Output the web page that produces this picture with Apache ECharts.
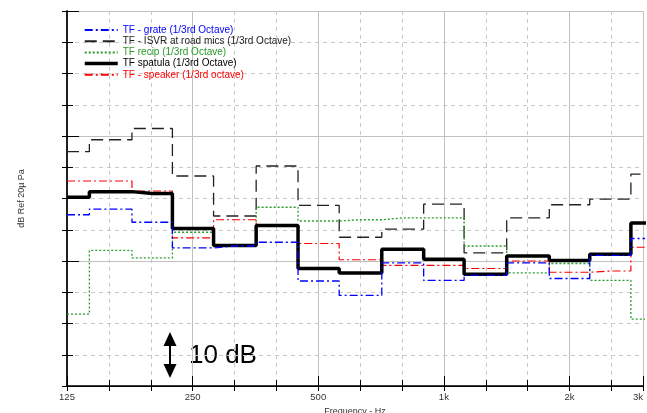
<!DOCTYPE html>
<html>
<head>
<meta charset="utf-8">
<script src="https://cdn.jsdelivr.net/npm/echarts@6/dist/echarts.min.js"></script>
<style>
  html, body { margin: 0; padding: 0; background: #fff; }
  #chart { width: 647px; height: 413px; }
</style>
</head>
<body>
<div id="chart"></div>
<script>
// 1/3 octave band centres (Hz)
var bands = [125, 160, 200, 250, 315, 400, 500, 630, 800, 1000, 1250, 1600, 2000, 2500, 3150];

// levels, dB (axis has no numbers, 5 dB per grid step)
var grate   = [27.4, 28.3, 26.2, 22.1, 22.4, 23.0, 16.8, 14.5, 19.7, 16.9, 17.7, 19.7, 17.2, 20.9, 23.6];
var isvr    = [37.5, 39.4, 41.2, 33.6, 27.2, 35.2, 28.9, 23.8, 25.1, 29.1, 21.3, 26.9, 29.0, 29.9, 33.9];
var recip   = [11.5, 21.7, 20.5, 24.6, 22.4, 28.6, 26.4, 26.6, 26.9, 26.9, 22.4, 18.1, 19.6, 16.9, 10.7];
var spatula = [30.2, 31.1, 30.8, 25.2, 22.5, 25.7, 18.8, 18.1, 21.9, 20.3, 17.9, 20.8, 20.1, 21.1, 26.1];
var speaker = [32.8, 32.8, 31.2, 23.7, 26.6, 25.6, 22.8, 20.2, 19.3, 19.3, 18.8, 20.0, 18.2, 18.4, 22.2];

var fMin = 125, fMax = 3000;

// x is plotted in octaves above 125 Hz
function oct(f) { return Math.log2(f / fMin); }
function pts(vals) {
  return bands.map(function (f, i) { return [oct(f), vals[i]]; });
}

var xMax = oct(fMax);
var font = 'Liberation Sans, Arial, sans-serif';

function freqLabel(v) {
  if (Math.abs(v - xMax) < 1e-6) return '3k';
  if (Math.abs(v - Math.round(v)) > 1e-6) return '';
  var f = Math.round(fMin * Math.pow(2, Math.round(v)));
  return f >= 1000 ? (f / 1000) + 'k' : String(f);
}

var chart = echarts.init(document.getElementById('chart'));

var series = [
  { name: 'TF - ISVR at road mics (1/3rd Octave)', data: pts(isvr),
    lineStyle: { color: '#222', width: 1.3, type: [12, 6] } },
  { name: 'TF recip (1/3rd Octave)', data: pts(recip),
    lineStyle: { color: '#2a9a2a', width: 1.3, type: [2, 2] } },
  { name: 'TF - speaker (1/3rd octave)', data: pts(speaker),
    lineStyle: { color: '#ff0000', width: 1.2, type: [8, 3, 2, 3] } },
  { name: 'TF spatula (1/3rd Octave)', data: pts(spatula),
    lineStyle: { color: '#000', width: 3.5, type: 'solid' } },
  { name: 'TF - grate (1/3rd Octave)', data: pts(grate),
    lineStyle: { color: '#0000ff', width: 1.3, type: [8, 3, 2, 3] } }
].map(function (s) {
  s.type = 'line';
  s.step = 'middle';
  s.symbol = 'circle';
  s.showSymbol = false;
  s.xAxisIndex = 0;
  s.yAxisIndex = 0;
  s.itemStyle = { color: s.lineStyle.color };
  s.animation = false;
  return s;
});

var legendText = {
  'TF - grate (1/3rd Octave)': '#0000ff',
  'TF - ISVR at road mics (1/3rd Octave)': '#222',
  'TF recip (1/3rd Octave)': '#2a9a2a',
  'TF spatula (1/3rd Octave)': '#000',
  'TF - speaker (1/3rd octave)': '#ff0000'
};

var option = {
  backgroundColor: '#fff',
  animation: false,
  grid: { left: 67, right: 4, top: 11, bottom: 27, outerBoundsMode: 'none', containLabel: false },
  legend: {
    orient: 'vertical',
    left: 78, top: 20,
    itemWidth: 33, itemHeight: 8, itemGap: 1.2,
    itemStyle: { color: 'rgba(0,0,0,0)', borderColor: 'rgba(0,0,0,0)', borderWidth: 0 },
    textStyle: { fontSize: 10, lineHeight: 10, fontFamily: font },
    data: Object.keys(legendText).map(function (n) {
      var item = { name: n, textStyle: { color: legendText[n] } };
      if (n.indexOf('spatula') >= 0) item.lineStyle = { width: 3.5 };
      return item;
    })
  },
  xAxis: [
    { // bottom: 1/3 octave ticks, dashed grid, labels
      type: 'value', position: 'bottom', min: 0, max: xMax, interval: 1 / 3,
      name: 'Frequency - Hz', nameLocation: 'middle', nameGap: 16,
      nameTextStyle: { fontSize: 9, color: '#333', fontFamily: font },
      axisLine: { show: true, lineStyle: { color: '#000', width: 1.5 } },
      axisTick: { show: true, inside: true, length: 6, lineStyle: { color: '#000' } },
      axisLabel: { formatter: freqLabel, fontSize: 9.5, color: '#333', fontFamily: font, margin: 6,
                   showMinLabel: true, showMaxLabel: true, hideOverlap: false, alignMaxLabel: 'right' },
      splitLine: { show: true, lineStyle: { color: '#c8c8c8', type: [4, 4], width: 1 } }
    },
    { // top border
      type: 'value', position: 'top', min: 0, max: xMax, interval: 1 / 3,
      axisLine: { show: true, lineStyle: { color: '#000', width: 1 } },
      axisTick: { show: true, inside: true, length: 5, lineStyle: { color: '#000' } },
      axisLabel: { show: false },
      splitLine: { show: false }
    },
    { // octave grid, solid
      type: 'value', position: 'bottom', min: 0, max: xMax, interval: 1,
      axisLine: { show: false },
      axisTick: { show: true, inside: true, length: 10, lineStyle: { color: '#000' } },
      axisLabel: { show: false },
      splitLine: { show: true, lineStyle: { color: '#c0c0c0', type: 'solid', width: 1 } }
    }
  ],
  yAxis: [
    {
      type: 'value', position: 'left', min: 0, max: 60, interval: 5,
      name: 'dB Ref 20\u00b5 Pa', nameLocation: 'middle', nameGap: 41,
      nameTextStyle: { fontSize: 9, color: '#333', fontFamily: font },
      axisLine: { show: true, lineStyle: { color: '#808080', width: 2 } },
      axisTick: { show: true, inside: true, length: 6, lineStyle: { color: '#000' } },
      axisLabel: { show: false },
      splitLine: { show: true, lineStyle: { color: '#c8c8c8', type: [4, 4], width: 1 } }
    },
    {
      type: 'value', position: 'right', min: 0, max: 60, interval: 5,
      axisLine: { show: true, lineStyle: { color: '#000', width: 1.5 } },
      axisTick: { show: true, inside: true, length: 5, lineStyle: { color: '#000' } },
      axisLabel: { show: false },
      splitLine: { show: false }
    },
    {
      type: 'value', position: 'left', min: 0, max: 60, interval: 20,
      axisLine: { show: false },
      axisTick: { show: true, inside: true, length: 12, lineStyle: { color: '#000' } },
      axisLabel: { show: false },
      splitLine: { show: true, lineStyle: { color: '#c0c0c0', type: 'solid', width: 1 } }
    }
  ],
  graphic: [
    { type: 'polygon', shape: { points: [[163.5, 346], [176.5, 346], [170, 332]] }, style: { fill: '#000' } },
    { type: 'polygon', shape: { points: [[163.5, 364], [176.5, 364], [170, 378]] }, style: { fill: '#000' } },
    { type: 'line', shape: { x1: 170, y1: 345, x2: 170, y2: 365 }, style: { stroke: '#000', lineWidth: 2 } },
    { type: 'text', left: 189, top: 343,
      style: { text: '10 dB', fontSize: 26, fontFamily: font, fill: '#000' } }
  ],
  series: series
};

chart.setOption(option);
</script>
</body>
</html>
